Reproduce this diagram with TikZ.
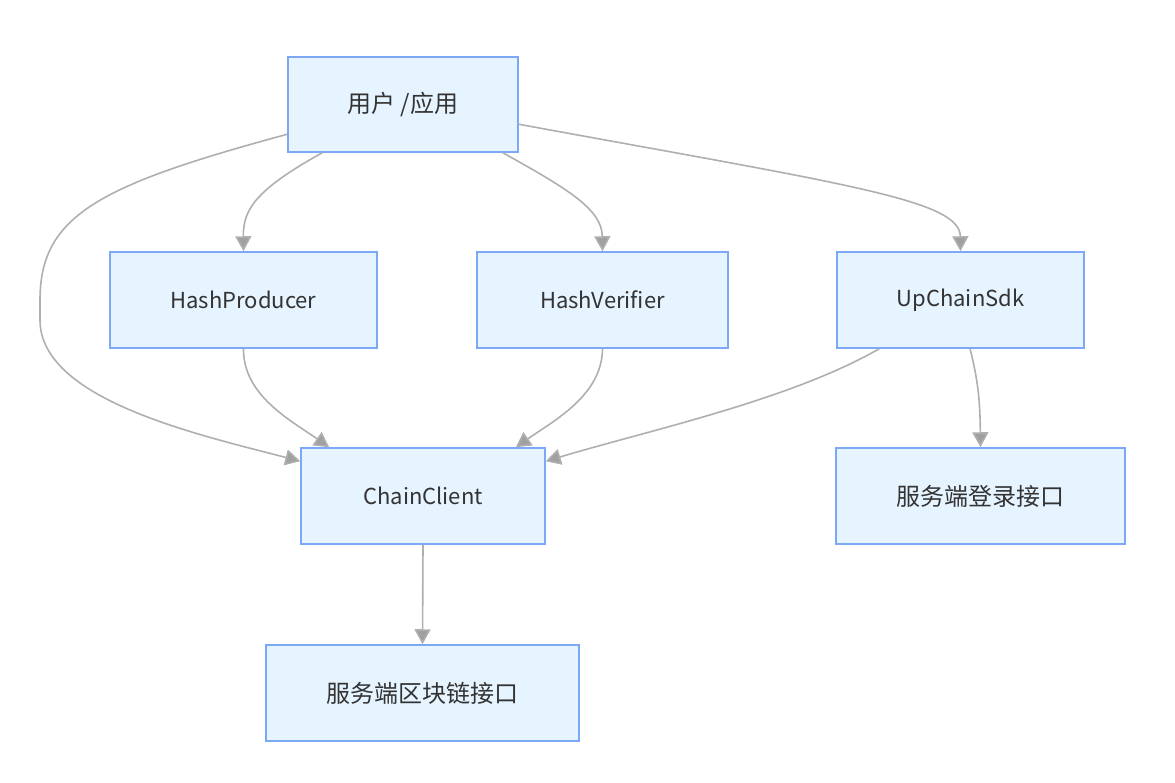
\documentclass[tikz,border=0pt]{standalone}
\usepackage{fontspec}
\usepackage{xcolor}
\usepackage{tikz}
\usetikzlibrary{calc,arrows.meta}
\setmainfont{Noto Sans CJK SC}
\definecolor{boxfill}{RGB}{230,244,255}
\definecolor{boxline}{RGB}{125,168,246}
\definecolor{edgegray}{RGB}{175,175,175}
\definecolor{tipgray}{RGB}{160,160,160}
\definecolor{textgray}{RGB}{51,51,51}

\begin{document}
\begin{tikzpicture}[
        x=1pt, y=-1pt,
        box/.style = {draw=boxline, fill=boxfill, line width=1.5pt, rectangle, minimum height=96pt, font=\fontsize{22}{26}\selectfont, text=textgray},
        cjkbox/.style = {box, font=\fontsize{24}{28}\selectfont},
        arrow/.style = {-{Triangle[length=15pt,width=16pt,fill=tipgray]}, draw=edgegray, line width=1.6pt}
    ]
    \useasboundingbox (0,0) rectangle (1175,783);

    % User at the top
    \node[cjkbox, minimum width=230pt, minimum height=95pt] (user) at (403,104.5) {用户 /应用};

    % Middle row
    \node[box, minimum width=267pt] (producer) at (243.5,300) {HashProducer};
    \node[box, minimum width=251pt] (verifier) at (602.5,300) {HashVerifier};
    \node[box, minimum width=247pt] (sdk) at (960.5,300) {UpChainSdk};

    % Lower rows
    \node[box, minimum width=244pt] (client) at (423,496) {ChainClient};
    \node[cjkbox, minimum width=289pt] (login) at (980.5,496) {服务端登录接口};
    \node[cjkbox, minimum width=313pt] (chain) at (422.5,693) {服务端区块链接口};

    % Edges from the user
    \draw[arrow] ([xshift=35]user.south west) .. controls (255,190) and (243,210) .. (producer.north);
    \draw[arrow] ([xshift=-16]user.south east) .. controls (570,190) and (602,210) .. (verifier.north);
    \draw[arrow] ([yshift=-68]user.north east) .. controls (850,185) and (960,200) .. (sdk.north);
    \draw[arrow] ([yshift=-78]user.north west) .. controls (100,185) and (40,215) .. (40,300)
        -- (40,320) .. controls (40,400) and (200,435) .. ([yshift=-14]client.north west);

    % Edges into the client
    \draw[arrow] (producer.south) .. controls (243,395) and (290,420) .. ([xshift=29]client.north west);
    \draw[arrow] (verifier.south) .. controls (602,395) and (555,420) .. ([xshift=-30]client.north east);
    \draw[arrow] ([xshift=43]sdk.south west) .. controls (790,400) and (650,430) .. ([yshift=-14]client.north east);

    % Remaining edges
    \draw[arrow] ([xshift=9.5]sdk.south) .. controls (978,380) and (980,400) .. (login.north);
    \draw[arrow] (client.south) -- (chain.north);

\end{tikzpicture}
\end{document}
